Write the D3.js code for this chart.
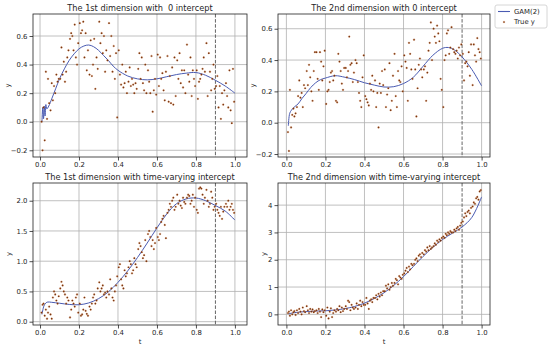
<!DOCTYPE html>
<html><head><meta charset="utf-8">
<script src="https://cdn.jsdelivr.net/npm/d3@7"></script>
<style>
html,body{margin:0;padding:0;background:#fff;}
svg{display:block;font-family:"DejaVu Sans",sans-serif;}
text{white-space:pre;}
</style></head>
<body><svg id="c" width="550" height="350"></svg>
<script>
// time grid shared by all four panels (8 observations per 0.05 window)
const tObs = [
0.008,0.013,0.018,0.024,0.030,0.036,0.041,0.047,
0.054,0.060,0.066,0.072,0.078,0.084,0.090,0.096,
0.104,0.110,0.116,0.122,0.128,0.134,0.140,0.146,
0.154,0.160,0.166,0.172,0.178,0.184,0.190,0.196,
0.204,0.210,0.216,0.222,0.228,0.234,0.240,0.246,
0.254,0.260,0.266,0.272,0.278,0.284,0.290,0.296,
0.304,0.310,0.316,0.322,0.328,0.334,0.340,0.346,
0.354,0.360,0.366,0.372,0.378,0.384,0.390,0.396,
0.404,0.410,0.416,0.422,0.428,0.434,0.440,0.446,
0.454,0.460,0.466,0.472,0.478,0.484,0.490,0.496,
0.504,0.510,0.516,0.522,0.528,0.534,0.540,0.546,
0.554,0.560,0.566,0.572,0.578,0.584,0.590,0.596,
0.604,0.610,0.616,0.622,0.628,0.634,0.640,0.646,
0.654,0.660,0.666,0.672,0.678,0.684,0.690,0.696,
0.704,0.710,0.716,0.722,0.728,0.734,0.740,0.746,
0.754,0.760,0.766,0.772,0.778,0.784,0.790,0.796,
0.804,0.810,0.816,0.822,0.828,0.834,0.840,0.846,
0.854,0.860,0.866,0.872,0.878,0.884,0.890,0.896,
0.904,0.910,0.916,0.922,0.928,0.934,0.940,0.946,
0.954,0.960,0.966,0.972,0.978,0.984,0.990,0.996];

const y1Obs = [
0.0,-0.2,0.1,-0.13,0.35,0.02,0.3,0.13,
0.08,0.27,0.15,0.25,0.2,0.33,0.28,0.3,
0.3,0.52,0.33,0.42,0.28,0.35,0.45,0.5,
0.58,0.62,0.6,0.5,0.68,0.45,0.4,0.55,
0.69,0.62,0.64,0.7,0.45,0.62,0.36,0.5,
0.33,0.57,0.32,0.4,0.58,0.23,0.45,0.37,
0.7,0.55,0.62,0.48,0.6,0.35,0.5,0.43,
0.69,0.46,0.6,0.35,0.53,0.3,0.48,0.03,
0.5,0.33,0.26,0.4,0.24,0.27,0.35,0.2,
0.28,0.38,0.25,0.3,0.26,0.2,0.27,0.23,
0.37,0.48,0.3,0.45,0.27,0.22,0.4,0.2,
0.36,0.28,0.2,0.46,0.07,0.22,0.3,0.19,
0.47,0.25,0.45,0.3,0.34,0.22,0.15,0.35,
0.46,0.14,0.32,0.13,0.38,0.12,0.45,0.18,
0.43,0.3,0.48,0.27,0.36,0.24,0.36,0.2,
0.54,0.33,0.28,0.45,0.18,0.36,0.3,0.25,
0.36,0.16,0.28,0.3,0.33,0.37,0.45,0.35,
0.55,0.18,0.48,0.35,0.22,0.3,0.4,0.23,
0.25,0.32,0.1,0.25,0.02,0.2,0.12,0.22,
0.27,0.18,0.1,0.36,0.08,-0.01,0.37,0.14];

const y2Obs = [
-0.06,-0.18,0.21,-0.03,0.05,0.09,0.04,0.06,
0.1,0.17,0.27,0.16,0.19,0.1,0.24,0.22,
0.33,0.24,0.37,0.29,0.2,0.14,0.33,0.45,
0.45,0.28,0.21,0.45,0.39,0.27,0.36,0.46,
0.12,0.2,0.21,0.26,0.32,0.33,0.27,0.3,
0.14,0.13,0.44,0.39,0.33,0.25,0.21,0.35,
0.35,0.29,0.33,0.55,0.37,0.38,0.26,0.32,
0.4,0.38,0.26,0.19,0.14,0.1,0.29,0.43,
0.17,0.15,0.13,0.11,0.25,0.21,0.3,0.2,
0.27,0.1,0.19,-0.03,0.25,0.19,0.33,0.24,
0.34,0.1,0.18,0.22,0.38,0.08,0.14,0.3,
0.44,0.17,0.1,0.33,0.27,0.26,0.36,0.2,
0.43,0.39,0.35,0.14,0.51,0.44,0.34,0.28,
0.53,0.34,0.04,0.22,0.37,0.41,0.34,0.29,
0.34,0.36,0.14,0.32,0.46,0.51,0.64,0.4,
0.6,0.55,0.51,0.62,0.57,0.52,0.28,0.21,
0.1,0.4,0.43,0.57,0.59,0.44,0.48,0.61,
0.47,0.45,0.44,0.46,0.41,0.48,0.43,0.5,
0.44,0.27,0.38,0.39,0.36,0.45,0.3,0.5,
0.24,0.5,0.43,0.39,0.54,0.47,0.45,0.41];

const y3Obs = [
0.15,0.28,0.3,0.1,0.2,0.05,0.15,0.25,
0.12,0.05,0.4,0.5,0.45,0.35,0.3,0.42,
0.55,0.66,0.6,0.5,0.45,0.3,0.4,0.35,
0.07,0.2,0.35,0.3,0.25,0.4,0.45,0.15,
0.3,0.1,0.12,0.2,0.4,0.18,0.13,0.1,
0.25,0.2,0.3,0.4,0.45,0.3,0.35,0.55,
0.65,0.5,0.55,0.6,0.45,0.48,0.4,0.5,
0.45,0.7,0.55,0.4,0.35,0.5,0.6,0.75,
0.9,0.95,0.7,0.6,0.55,0.85,0.75,0.8,
0.9,1.0,0.95,0.8,0.85,1.05,0.95,0.9,
1.2,1.3,1.25,1.15,1.05,1.1,1.35,1.0,
1.45,1.5,1.4,1.25,1.35,1.2,1.3,1.55,
1.4,1.35,1.45,1.65,1.7,1.75,1.6,1.38,
1.8,1.85,1.95,1.9,2.0,2.05,1.85,1.9,
2.1,1.95,2.0,1.92,1.88,2.05,1.98,1.95,
2.05,2.1,2.08,1.95,2.0,2.1,1.9,2.05,
1.85,1.8,2.2,2.22,2.2,2.1,1.95,2.05,
2.18,2.0,1.9,1.95,2.15,2.05,1.85,1.9,
1.95,1.85,1.8,1.75,1.9,1.7,1.82,1.9,
1.95,1.9,2.0,1.85,1.9,1.95,1.85,1.8];

const y4Obs = [
0.05,0.1,-0.05,0.15,0.0,0.08,0.12,-0.02,
0.15,0.05,0.2,0.1,0.0,0.25,0.12,0.08,
0.3,0.15,0.05,0.2,0.1,0.18,0.08,0.12,
0.15,0.05,0.2,0.1,-0.1,0.18,0.08,0.15,
-0.05,0.25,-0.15,0.1,0.22,-0.1,0.05,0.15,
0.1,0.2,0.15,0.3,0.08,0.25,0.12,0.2,
0.3,0.2,0.5,0.45,0.15,0.35,0.25,0.2,
0.25,0.4,0.2,0.35,0.5,0.3,0.45,0.35,
0.35,0.6,0.4,0.2,0.5,0.55,0.45,0.6,
0.6,0.7,0.55,0.75,0.65,0.8,0.7,0.85,
0.85,1.05,0.95,1.1,0.9,1.0,1.15,1.05,
1.15,1.3,1.25,1.1,1.4,1.35,1.3,1.45,
1.5,1.6,1.7,1.55,1.75,1.65,1.85,1.8,
1.85,2.0,2.05,1.95,2.15,2.2,2.1,2.25,
2.2,2.35,2.3,2.45,2.35,2.5,2.4,2.45,
2.5,2.6,2.55,2.7,2.65,2.75,2.7,2.8,
2.85,2.8,2.95,2.9,3.0,2.95,3.05,3.0,
3.0,3.1,3.05,3.15,3.2,3.1,3.25,3.35,
3.4,3.55,3.7,3.6,3.75,3.8,3.7,3.9,
3.95,4.1,4.05,4.25,4.3,4.2,4.5,4.55];

// GAM(2) fitted curves
const t1Fit = [0.010,0.014,0.018,0.022,0.026,0.030,0.035,0.045,0.06,0.08,0.1,0.125,0.15,0.175,0.2,0.225,0.25,0.275,0.3,0.325,0.35,0.375,0.4,0.45,0.5,0.55,0.6,0.65,0.7,0.75,0.8,0.85,0.9,0.95,1.0];
const y1Fit = [0.0,0.1,0.02,0.11,0.04,0.12,0.09,0.11,0.16,0.23,0.3,0.37,0.43,0.475,0.51,0.53,0.537,0.525,0.5,0.465,0.43,0.39,0.36,0.32,0.3,0.293,0.3,0.315,0.33,0.34,0.344,0.325,0.29,0.25,0.2];
const t2Fit = [0.01,0.017,0.026,0.04,0.06,0.08,0.1,0.125,0.15,0.175,0.2,0.25,0.3,0.35,0.4,0.45,0.5,0.55,0.6,0.65,0.7,0.75,0.8,0.83,0.86,0.9,0.95,1.0];
const y2Fit = [-0.02,0.06,0.08,0.1,0.12,0.155,0.185,0.225,0.255,0.275,0.285,0.30,0.29,0.275,0.255,0.24,0.228,0.23,0.25,0.29,0.36,0.43,0.475,0.48,0.465,0.42,0.34,0.235];
const t3Fit = [0.01,0.02,0.03,0.04,0.06,0.1,0.15,0.2,0.25,0.3,0.35,0.4,0.45,0.5,0.55,0.6,0.65,0.7,0.75,0.8,0.85,0.9,0.95,1.0];
const y3Fit = [0.12,0.26,0.31,0.325,0.32,0.305,0.285,0.28,0.31,0.38,0.49,0.65,0.84,1.06,1.3,1.55,1.78,1.95,2.03,2.045,2.0,1.92,1.83,1.68];
const t4Fit = [0.01,0.05,0.1,0.15,0.2,0.25,0.3,0.35,0.4,0.45,0.5,0.55,0.6,0.65,0.7,0.75,0.8,0.85,0.9,0.95,1.0];
const y4Fit = [0.02,0.07,0.1,0.12,0.13,0.16,0.21,0.29,0.41,0.58,0.79,1.06,1.38,1.75,2.12,2.45,2.74,2.97,3.2,3.55,4.3];

const titles = ["The 1st dimension with  0 intercept","The 2nd dimension with 0 intercept",
                "The 1st dimension with time-varying intercept","The 2nd dimension with time-varying intercept"];
const xTicks = [0.0,0.2,0.4,0.6,0.8,1.0];
const yTicks1 = [-0.2,0.0,0.2,0.4,0.6];
const yTicks2 = [-0.2,0.0,0.2,0.4,0.6];
const yTicks3 = [0.0,0.5,1.0,1.5,2.0];
const yTicks4 = [0,1,2,3,4];
const cutoff = 0.9;
const legendLabels = ["GAM(2)","True y"];

const panels = [
 {x:[33,247], y:[14,157], xd:[-0.036,1.062], yd:[-0.247,0.754], obs:y1Obs, tf:t1Fit, yf:y1Fit, yt:yTicks1, fmt:d3.format(".1f"), xlab:false, ylx:7},
 {x:[278,490], y:[14,157], xd:[-0.043,1.043], yd:[-0.219,0.694], obs:y2Obs, tf:t2Fit, yf:y2Fit, yt:yTicks2, fmt:d3.format(".1f"), xlab:false, ylx:252},
 {x:[33,247], y:[183,325], xd:[-0.036,1.062], yd:[-0.055,2.293], obs:y3Obs, tf:t3Fit, yf:y3Fit, yt:yTicks3, fmt:d3.format(".1f"), xlab:true, ylx:8},
 {x:[278,490], y:[183,325], xd:[-0.043,1.043], yd:[-0.39,4.81], obs:y4Obs, tf:t4Fit, yf:y4Fit, yt:yTicks4, fmt:d3.format("d"), xlab:true, ylx:263}
];

const svg = d3.select("#c");
const FS = 6.9;
const lineColor = "#4a5bb2";

panels.forEach((p,i)=>{
  const xs = d3.scaleLinear().domain(p.xd).range(p.x);
  const ys = d3.scaleLinear().domain(p.yd).range([p.y[1],p.y[0]]);
  const g = svg.append("g");
  g.selectAll(".gx").data(xTicks).join("line")
    .attr("x1",d=>xs(d)).attr("x2",d=>xs(d)).attr("y1",p.y[0]).attr("y2",p.y[1])
    .attr("stroke","#b0b0b0").attr("stroke-width",0.8);
  g.selectAll(".gy").data(p.yt).join("line")
    .attr("y1",d=>ys(d)).attr("y2",d=>ys(d)).attr("x1",p.x[0]).attr("x2",p.x[1])
    .attr("stroke","#b0b0b0").attr("stroke-width",0.8);
  g.append("line").attr("x1",xs(cutoff)).attr("x2",xs(cutoff)).attr("y1",p.y[0]).attr("y2",p.y[1])
    .attr("stroke","#555").attr("stroke-width",0.9).attr("stroke-dasharray","3.5,1.6");
  const line = d3.line().x((d,k)=>xs(p.tf[k])).y(d=>ys(d)).curve(d3.curveCatmullRom.alpha(0.5));
  g.append("path").datum(p.yf).attr("d",line).attr("fill","none")
    .attr("stroke",lineColor).attr("stroke-width",1.0);
  g.selectAll("circle").data(p.obs).join("circle")
    .attr("cx",(d,k)=>xs(tObs[k])).attr("cy",d=>ys(d)).attr("r",0.85)
    .attr("fill","#5e2a0e").attr("stroke","#d9773a").attr("stroke-width",0.35);
  const ax = g.append("g").attr("transform",`translate(0,${p.y[1]})`)
    .call(d3.axisBottom(xs).tickValues(xTicks).tickFormat(d3.format(".1f")).tickSize(3.5).tickPadding(2));
  const ay = g.append("g").attr("transform",`translate(${p.x[0]},0)`)
    .call(d3.axisLeft(ys).tickValues(p.yt).tickFormat(d=>p.fmt(d).replace("-","\u2212")).tickSize(3.5).tickPadding(2));
  [ax,ay].forEach(a=>{
    a.select(".domain").remove();
    a.selectAll("line").attr("stroke","#222").attr("stroke-width",0.8);
    a.selectAll("text").attr("font-size",FS).attr("fill","#262626").attr("font-family","DejaVu Sans");
  });
  g.append("rect").attr("x",p.x[0]).attr("y",p.y[0]).attr("width",p.x[1]-p.x[0]).attr("height",p.y[1]-p.y[0])
    .attr("fill","none").attr("stroke","#222").attr("stroke-width",0.8);
  g.append("text").attr("x",(p.x[0]+p.x[1])/2).attr("y",p.y[0]-3.5).attr("text-anchor","middle")
    .attr("font-size",8.2).attr("fill","#262626").text(titles[i]);
  g.append("text").attr("transform",`translate(${p.ylx+2.5},${(p.y[0]+p.y[1])/2}) rotate(-90)`)
    .attr("text-anchor","middle").attr("font-size",FS).attr("fill","#262626").text("y");
  if(p.xlab){
    g.append("text").attr("x",(p.x[0]+p.x[1])/2).attr("y",p.y[1]+19).attr("text-anchor","middle")
      .attr("font-size",FS).attr("fill","#262626").text("t");
  }
});

const lg = svg.append("g");
lg.append("rect").attr("x",495).attr("y",5).attr("width",52).attr("height",23).attr("rx",2)
  .attr("fill","#fff").attr("stroke","#ccc").attr("stroke-width",0.8);
lg.append("line").attr("x1",498).attr("x2",510).attr("y1",11.5).attr("y2",11.5)
  .attr("stroke",lineColor).attr("stroke-width",1.1);
lg.append("circle").attr("cx",504).attr("cy",22).attr("r",0.85)
  .attr("fill","#5e2a0e").attr("stroke","#d9773a").attr("stroke-width",0.35);
lg.selectAll("text.l").data(legendLabels).join("text")
  .attr("x",514).attr("y",(d,k)=>14+k*10.3).attr("font-size",FS).attr("fill","#262626").text(d=>d);
</script></body></html>
